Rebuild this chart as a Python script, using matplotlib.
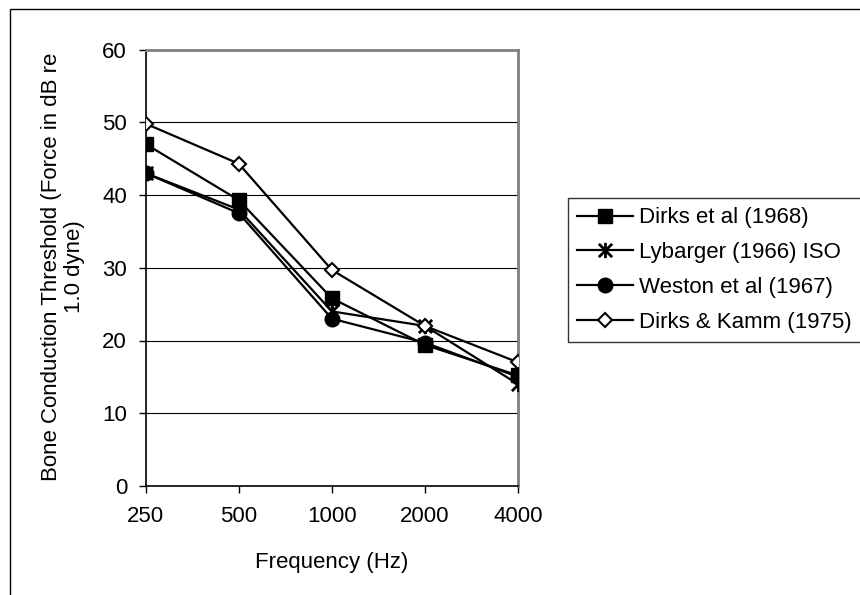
import matplotlib
matplotlib.use("Agg")
import matplotlib.pyplot as plt
from matplotlib.path import Path
from matplotlib.patches import Rectangle

plt.rcParams['font.family'] = ['Liberation Sans', 'DejaVu Sans']

freqs = ["250", "500", "1000", "2000", "4000"]
dirks_1968 = [47, 39.3, 25.8, 19.4, 15.2]
lybarger_1966 = [43, 38, 24, 22, 14]
weston_1967 = [43, 37.5, 23, 19.7, 15]
dirks_kamm_1975 = [49.8, 44.3, 29.7, 22, 17]
labels = ["Dirks et al (1968)", "Lybarger (1966) ISO", "Weston et al (1967)", "Dirks & Kamm (1975)"]

W, H = 860, 595
FS = 16

star = Path([(0, -1), (0, 1), (-0.87, -0.87), (0.87, 0.87), (-0.87, 0.87), (0.87, -0.87)],
            [Path.MOVETO, Path.LINETO, Path.MOVETO, Path.LINETO, Path.MOVETO, Path.LINETO])

fig = plt.figure(figsize=(W/100, H/100), dpi=100)
ax = fig.add_axes([145.7/W, 1-486/H, (518-145.7)/W, (486-49.5)/H])

x = list(range(len(freqs)))
ax.plot(x, dirks_1968, color='black', lw=1.6, marker='s', ms=10.5, mfc='black', mec='black', label=labels[0], zorder=3)
ax.plot(x, lybarger_1966, color='black', lw=1.6, marker=star, ms=11, mfc='none', mec='black', mew=2, label=labels[1], zorder=3)
ax.plot(x, weston_1967, color='black', lw=1.6, marker='o', ms=10.5, mfc='black', mec='black', label=labels[2], zorder=3)
ax.plot(x, dirks_kamm_1975, color='black', lw=1.6, marker='D', ms=7.2, mfc='white', mec='black', mew=1.5, label=labels[3], zorder=4)

ax.set_xlim(0, 4)
ax.set_ylim(0, 60)
ax.set_xticks(x)
ax.set_xticklabels(freqs)
ax.set_yticks(range(0, 61, 10))
for yv in range(10, 60, 10):
    ax.axhline(yv, color='black', lw=0.8, zorder=1)
ax.tick_params(axis='both', labelsize=FS, direction='out', length=5, width=1, colors='black')
ax.tick_params(axis='x', pad=9.4)
ax.tick_params(axis='y', pad=8.4)
ax.spines['left'].set_color('black')
ax.spines['bottom'].set_color('black')
ax.spines['left'].set_linewidth(1.2)
ax.spines['bottom'].set_linewidth(1.2)
ax.spines['top'].set_color('#808080')
ax.spines['right'].set_color('#808080')
ax.spines['top'].set_linewidth(2)
ax.spines['right'].set_linewidth(2)
for s in ax.spines.values():
    s.set_clip_on(False)

fig.text(332/W, 1-568/H, "Frequency (Hz)", fontsize=FS, ha='center', va='baseline')
fig.text(63/W, 1-266.5/H, "Bone Conduction Threshold (Force in dB re\n1.0 dyne)", fontsize=FS,
         rotation=90, ha='center', va='center', multialignment='center', linespacing=1.15)

leg = fig.legend(loc='upper left', bbox_to_anchor=(568/W, 1-198/H), fontsize=FS,
                 frameon=True, fancybox=False, edgecolor='black', handlelength=2.5,
                 handletextpad=0.27, labelspacing=0.62, borderpad=0.42, borderaxespad=0)
leg.get_frame().set_linewidth(1.0)

fig.patches.append(Rectangle((10/W, -0.1), 2.0, (H-9)/H + 0.1, transform=fig.transFigure,
                             fill=False, edgecolor='black', lw=1))

fig.savefig("out.png", dpi=100)
